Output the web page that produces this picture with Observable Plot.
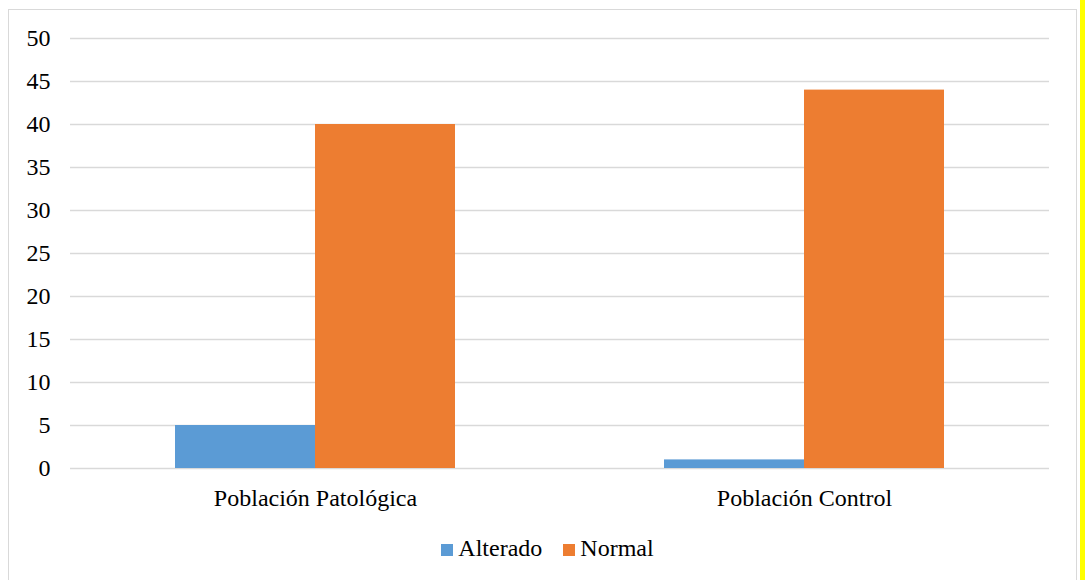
<!DOCTYPE html>
<html>
<head>
<meta charset="utf-8">
<script src="https://cdn.jsdelivr.net/npm/d3@7"></script>
<script src="https://cdn.jsdelivr.net/npm/@observablehq/plot@0.6"></script>
<style>
  html, body { margin: 0; padding: 0; background: #fff; width: 1085px; height: 580px; overflow: hidden; }
  #frame { position: absolute; left: 8px; top: 9px; width: 1067px; height: 600px; border: 1.5px solid #d9d9d9; border-bottom: none; background: #fff; }
  #strip { position: absolute; left: 1080px; top: 0; width: 5px; height: 580px; background: #ffff00; }
  #chart { position: relative; width: 1067px; height: 518px; }
  #chart svg { position: absolute; left: 0; top: 0; }
  #legend { display: flex; justify-content: center; align-items: center; font-family: 'Liberation Serif', 'Times New Roman', serif; font-size: 24px; color: #000; height: 28px; margin-top: 6px; padding-left: 10px; }
  .item { display: flex; align-items: center; }
  .sw { width: 12px; height: 12px; margin-right: 5px; margin-top: 3px; }
</style>
</head>
<body>
<div id="strip"></div>
<div id="frame"><div id="chart"></div><div id="legend"></div></div>
<script>
const categories = ["Población Patológica", "Población Control"];
const series = ["Alterado", "Normal"];
const alterado = [5, 1];
const normal = [40, 44];
const yTicks = [0, 5, 10, 15, 20, 25, 30, 35, 40, 45, 50];
const colors = ["#5B9BD5", "#ED7D31"];

const data = categories.flatMap((c, i) => [
  {cat: c, series: series[0], value: alterado[i]},
  {cat: c, series: series[1], value: normal[i]}
]);

const common = {
  width: 1067,
  height: 518,
  marginLeft: 61,
  marginRight: 27,
  marginTop: 28,
  marginBottom: 60,
  style: {fontFamily: "'Liberation Serif', 'Times New Roman', serif", fontSize: "24px", color: "#000", background: "transparent", overflow: "visible"}
};

// Background: y axis and continuous gridlines
const back = Plot.plot({
  ...common,
  y: {domain: [0, 50], ticks: yTicks, tickSize: 0, tickPadding: 20, label: null},
  marks: [
    Plot.ruleY(yTicks, {stroke: "#d9d9d9", strokeWidth: 1.5})
  ]
});

// Foreground: grouped bars with category axis
const front = Plot.plot({
  ...common,
  fx: {domain: categories, paddingInner: 0.428, paddingOuter: 0.214, label: null, tickSize: 0, tickPadding: 20, axis: "bottom"},
  x: {domain: series, padding: 0, axis: null},
  y: {domain: [0, 50], axis: null},
  color: {domain: series, range: colors},
  marks: [
    Plot.barY(data, {fx: "cat", x: "series", y: "value", fill: "series"})
  ]
});

const chartDiv = document.getElementById("chart");
chartDiv.appendChild(back);
chartDiv.appendChild(front);

const legend = document.getElementById("legend");
series.forEach((s, i) => {
  const item = document.createElement("div");
  item.className = "item";
  item.style.marginRight = i < series.length - 1 ? "21px" : "0";
  const sw = document.createElement("div");
  sw.className = "sw";
  sw.style.background = colors[i];
  const t = document.createElement("span");
  t.textContent = s;
  item.appendChild(sw);
  item.appendChild(t);
  legend.appendChild(item);
});
</script>
</body>
</html>
